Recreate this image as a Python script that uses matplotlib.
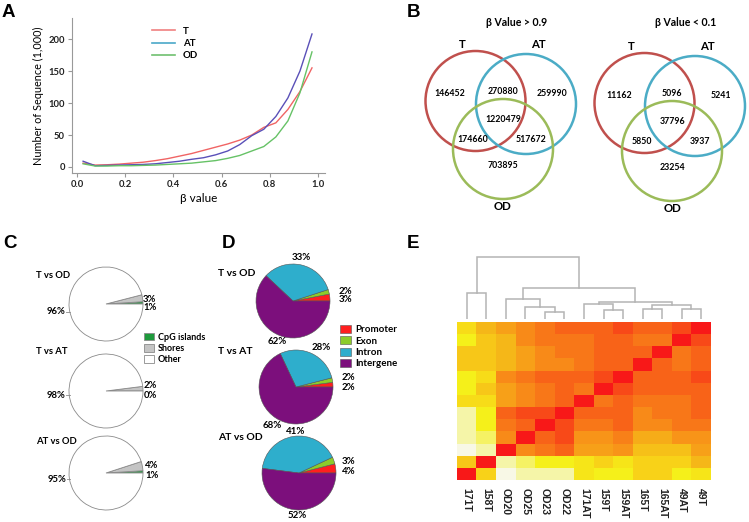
import matplotlib
matplotlib.use('Agg')
import matplotlib.pyplot as plt
from matplotlib.patches import Circle
from matplotlib.lines import Line2D
from matplotlib.colors import LinearSegmentedColormap

plt.rcParams['font.family'] = ['Lato', 'DejaVu Sans']
plt.rcParams['font.weight'] = 'bold'

W, H = 749, 522

# A: number of sequences per beta value bin (thousands)
beta = [0.025, 0.075, 0.125, 0.175, 0.225, 0.275, 0.325, 0.375, 0.425, 0.475,
        0.525, 0.575, 0.625, 0.675, 0.725, 0.775, 0.825, 0.875, 0.925, 0.975]
seq_T = [6, 3, 3.5, 4.5, 6, 7.5, 10, 13, 17, 21, 26, 31, 36, 42, 50, 62, 69, 90, 118, 155]
seq_AT = [9, 2, 2.5, 3, 3.5, 4, 5, 7, 9, 12, 14.5, 19, 25, 35, 49, 59, 79, 108, 150, 208]
seq_OD = [5, 1.5, 1.5, 2, 2, 2.5, 3, 4, 5, 6, 8, 10, 13.5, 18, 25, 32, 47, 72, 116, 180]

# B: venn counts (T only, T&AT, AT only, all, T&OD, AT&OD, OD only)
venn_groups = ['T', 'AT', 'OD']
venn_titles = ['β Value > 0.9', 'β Value < 0.1']
venn_hi = [146452, 270880, 259990, 1220479, 174660, 517672, 703895]
venn_lo = [11162, 5096, 5241, 37796, 5850, 3937, 23254]

# C / D: pie percentages
comparisons = ['T vs OD', 'T vs AT', 'AT vs OD']
cgi_names = ['CpG islands', 'Shores', 'Other']
cgi_pct = [[1, 3, 96], [0, 2, 98], [1, 4, 95]]
region_names = ['Promoter', 'Exon', 'Intron', 'Intergene']
region_pct = [[3, 2, 33, 62], [2, 2, 28, 68], [4, 3, 41, 52]]

# E: heatmap (colour level, 0 = most similar)
samples = ['171T', '158T', 'OD20', 'OD25', 'OD23', 'OD22', '171AT',
           '159T', '159AT', '165T', '165AT', '49AT', '49T']
levels = [
    [8, 6, 5, 4, 3, 2, 2, 2, 1, 2, 2, 1, 0],
    [9, 7, 6, 4, 3, 3, 3, 2, 2, 3, 3, 0, 1],
    [7, 7, 6, 5, 4, 3, 3, 2, 2, 2, 0, 3, 2],
    [7, 7, 6, 5, 4, 4, 3, 2, 2, 0, 2, 3, 2],
    [9, 8, 4, 3, 2, 2, 2, 1, 0, 2, 2, 2, 1],
    [9, 7, 5, 4, 3, 2, 3, 0, 1, 2, 2, 2, 2],
    [8, 8, 5, 4, 3, 2, 0, 3, 2, 3, 3, 3, 2],
    [10, 9, 2, 1, 1, 0, 2, 2, 2, 4, 3, 3, 2],
    [10, 9, 3, 2, 0, 1, 3, 3, 2, 4, 4, 3, 3],
    [10, 9.5, 4, 0, 2, 1, 4.5, 4.5, 3.5, 5.5, 5.5, 4.5, 4.5],
    [11, 10, 0, 4, 3, 2, 5, 5, 4.5, 6.5, 6.5, 6.5, 5],
    [7, 0, 10, 9.5, 9, 9, 8.5, 7.5, 8.5, 7.5, 7.5, 7.5, 6],
    [0, 7.5, 11, 10, 10, 10, 8.5, 9, 9, 7.5, 7.5, 9, 8.5],
]
# dendrogram merges (left, right, height)
merges = [(0, 1, 25.7), (4, 5, 7.3), (3, 14, 12.3), (2, 15, 20.5), (7, 8, 9),
          (6, 17, 15.2), (9, 10, 9.7), (11, 12, 10.3), (19, 20, 14.3),
          (18, 21, 17.3), (16, 22, 31.3), (13, 23, 62)]

fig = plt.figure(figsize=(W / 100, H / 100), dpi=100)


def px_axes(x0, y0, x1, y1):
    return fig.add_axes([x0 / W, 1 - y1 / H, (x1 - x0) / W, (y1 - y0) / H])


# ---------- A
ax = px_axes(72, 18, 325, 173)
ax.plot(beta, seq_T, color='#f06464', lw=1)
ax.plot(beta, seq_AT, color='#5a50b8', lw=1)
ax.plot(beta, seq_OD, color='#66c266', lw=1)
ax.set_xlim(-0.021, 1.029)
ax.set_ylim(-9.4, 233)
ax.set_xticks([0, 0.2, 0.4, 0.6, 0.8, 1.0])
ax.set_xticklabels(['0.0', '0.2', '0.4', '0.6', '0.8', '1.0'])
ax.set_yticks([0, 50, 100, 150, 200])
for s in ['top', 'right']:
    ax.spines[s].set_visible(False)
for s in ['left', 'bottom']:
    ax.spines[s].set_color('#999999')
ax.tick_params(labelsize=6.8, length=3, color='#999999', labelcolor='#222222', pad=2)
ax.set_xlabel('β value', fontsize=8.5, labelpad=3)
ax.set_ylabel('Number of Sequence (1,000)', fontsize=7.8, labelpad=3)
handles = [Line2D([], [], color='#f08080', lw=1.2),
           Line2D([], [], color='#4aa8c8', lw=1.2),
           Line2D([], [], color='#70c070', lw=1.2)]
ax.legend(handles, ['T', 'AT', 'OD'], loc='upper left', bbox_to_anchor=(0.3, 0.97),
          frameon=False, fontsize=7, handlelength=2.4, labelspacing=0.35, borderaxespad=0)

# ---------- C pies
cgi_colors = ['#1e9a3c', '#c4c4c4', 'white']
c_centers = [(106, 304), (106, 391), (106, 473)]
c_lab = [[(37, 4), (37, -5), (-41, 8)],
         [(38, 4), (38, -5), (-41, 4)],
         [(39, 2), (39, -8), (-40, 6)]]
r = 37
c_wedges = None
for i, vals in enumerate(cgi_pct):
    cx, cy = c_centers[i]
    pa = px_axes(cx - r * 1.03, cy - r * 1.03, cx + r * 1.03, cy + r * 1.03)
    wd, _ = pa.pie(vals, colors=cgi_colors, startangle=0, counterclock=True,
                   wedgeprops=dict(edgecolor='#8a8a8a', linewidth=0.6))
    pa.set_xlim(-1.03, 1.03)
    pa.set_ylim(-1.03, 1.03)
    if c_wedges is None:
        c_wedges = wd
fig.legend(c_wedges, cgi_names, loc='upper left', bbox_to_anchor=(140 / W, 1 - 329 / H),
           frameon=False, fontsize=6.5, handlelength=1.1, handleheight=0.9,
           handletextpad=0.5, labelspacing=0.25, borderaxespad=0)

# ---------- D pies
region_colors = ['#ff1f1f', '#8ccc2a', '#2eaecc', '#7c0f7c']
d_centers = [(293, 301), (296, 387), (299, 473)]
d_lab = [[(46, -1), (46, -10), (8, -43), (-16, 41)],
         [(46, 1), (46, -9), (25, -39), (-24, 38)],
         [(43, -2), (43, -12), (-3, -41), (-2, 43)]]
r = 37
d_wedges = None
for i, vals in enumerate(region_pct):
    cx, cy = d_centers[i]
    pa = px_axes(cx - r * 1.03, cy - r * 1.03, cx + r * 1.03, cy + r * 1.03)
    wd, _ = pa.pie(vals, colors=region_colors, startangle=0, counterclock=True,
                   wedgeprops=dict(edgecolor='#555555', linewidth=0.4))
    pa.set_xlim(-1.03, 1.03)
    pa.set_ylim(-1.03, 1.03)
    if d_wedges is None:
        d_wedges = wd
fig.legend(d_wedges, region_names, loc='upper left', bbox_to_anchor=(336 / W, 1 - 321 / H),
           frameon=False, fontsize=7, handlelength=1.1, handleheight=0.9,
           handletextpad=0.5, labelspacing=0.2, borderaxespad=0)

# ---------- E heatmap + dendrogram
cmap = LinearSegmentedColormap.from_list('heat', [
    '#f81818', '#f84a18', '#f86418', '#f87818', '#f88a18', '#f8a018',
    '#f5b818', '#f8c818', '#f8dc18', '#f5f018', '#f5f5a8', '#f8f8e6'])
hx = px_axes(457, 322, 711, 480)
hx.imshow(levels, cmap=cmap, vmin=0, vmax=11, aspect='auto', interpolation='nearest')
hx.set_xticks(range(len(samples)))
hx.set_xticklabels(samples, rotation=270, fontsize=7.5, family='Liberation Sans',
                   fontweight='bold', color='#222222')
hx.set_yticks([])
hx.tick_params(length=0, pad=6)
for s in hx.spines.values():
    s.set_visible(False)

dx = px_axes(457, 250, 711, 319)
pos = {i: float(i) for i in range(len(samples))}
hgt = {i: 0.0 for i in range(len(samples))}
for k, (a, b, h) in enumerate(merges):
    dx.plot([pos[a], pos[a], pos[b], pos[b]], [hgt[a], h, h, hgt[b]],
            color='#b4b4b4', lw=1.1, solid_joinstyle='miter')
    pos[len(samples) + k] = (pos[a] + pos[b]) / 2
    hgt[len(samples) + k] = h
dx.set_xlim(-0.5, 12.5)
dx.set_ylim(0, 69)
dx.axis('off')

# ---------- overlay: venn diagrams, labels
ov = fig.add_axes([0, 0, 1, 1])
ov.set_xlim(0, W)
ov.set_ylim(H, 0)
ov.axis('off')

venn_colors = ['#c0504d', '#4bacc6', '#9bbb59']
circ_off = [(-27.5, 101), (23, 104), (0, 149)]
name_off = [(-41, 44), (35, 44), (0, 207)]
num_off = [(-53, 94), (0, 92), (49, 94), (0, 120), (-30, 139), (28, 139), (0, 166)]
for anchor, counts, title in [((503, 0), venn_hi, venn_titles[0]),
                              ((672, 2), venn_lo, venn_titles[1])]:
    axx, ayy = anchor
    ov.text(axx + 14, 23, title, ha='center', va='center', fontsize=7.6)
    for (ox, oy), col, nm, (nx, ny) in zip(circ_off, venn_colors, venn_groups, name_off):
        ov.add_patch(Circle((axx + ox, ayy + oy), 50, fill=False, ec=col, lw=1.8))
        ov.text(axx + nx, ayy + ny, nm, ha='center', va='center', fontsize=8.2)
    for (ox, oy), n in zip(num_off, counts):
        ov.text(axx + ox, ayy + oy, str(n), ha='center', va='center', fontsize=6.3)

for i, name in enumerate(comparisons):
    cx, cy = c_centers[i]
    ov.text(36, [275, 352, 441][i], name, ha='left', va='center', fontsize=6.8)
    for j, v in enumerate(cgi_pct[i]):
        ox, oy = c_lab[i][j]
        if ox < 0:
            ov.text(cx + ox, cy + oy, f'{v}%', ha='right', va='center', fontsize=6.8)
            ov.plot([cx + ox + 0.5, cx - 36.5], [cy + oy, cy + oy], color='#8a8a8a', lw=0.6)
        else:
            ov.text(cx + ox, cy + oy, f'{v}%', ha='left', va='center', fontsize=6.8)

for i, name in enumerate(comparisons):
    cx, cy = d_centers[i]
    ov.text(218, [273, 351, 437][i], name, ha='left', va='center', fontsize=7.5)
    for j, v in enumerate(region_pct[i]):
        ox, oy = d_lab[i][j]
        ha = 'left' if j < 2 else 'center'
        ov.text(cx + ox, cy + oy, f'{v}%', ha=ha, va='center', fontsize=7)

for letter, x, y in [('A', 2, 4), ('B', 407, 4), ('C', 3, 235), ('D', 222, 235), ('E', 407, 235)]:
    ov.text(x, y, letter, ha='left', va='top', fontsize=13.5,
            family='Liberation Sans', fontweight='bold')

fig.savefig('out.png', dpi=100)
